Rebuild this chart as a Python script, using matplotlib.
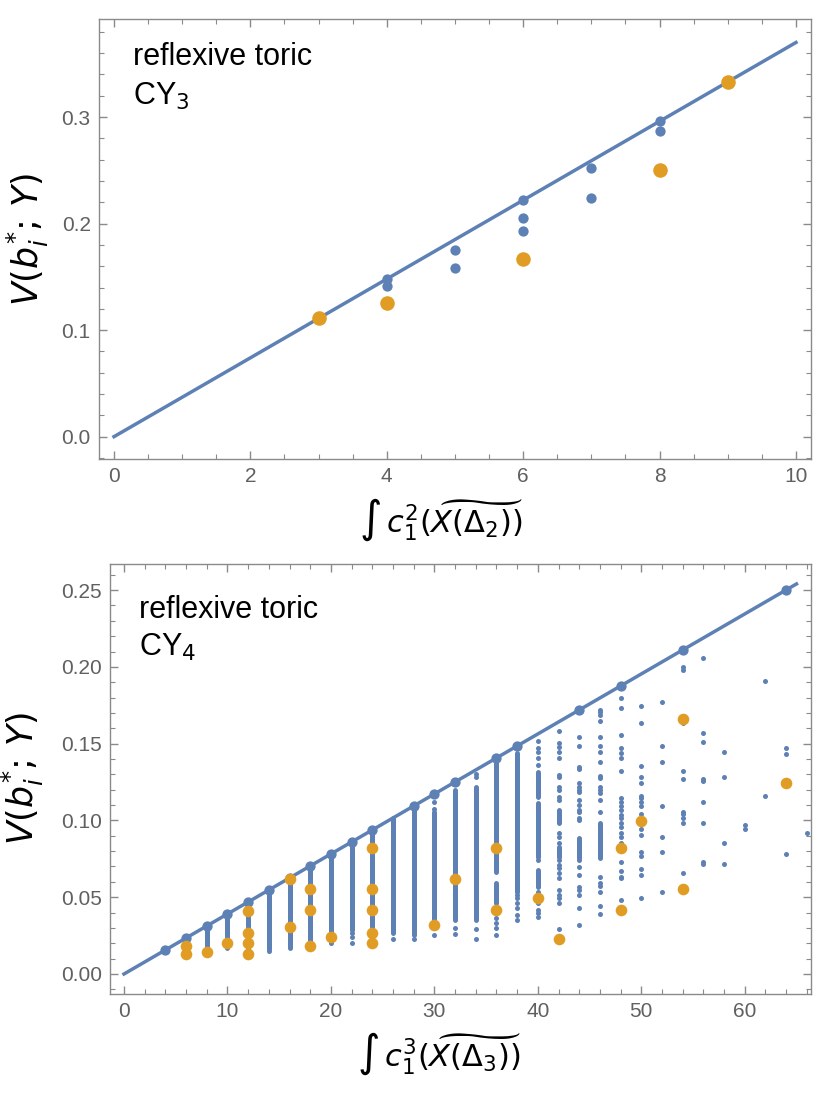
import matplotlib
matplotlib.use("Agg")
import matplotlib.pyplot as plt
from matplotlib.ticker import MultipleLocator

BLUE = "#5E81B5"
ORANGE = "#E19C24"
FRAME = "#8a8a8a"
TICKTXT = "#606060"

# ---- top panel: reflexive toric CY3 ----
cy3_bound_x = [0, 10]
cy3_bound_y = [0.0, 0.370]
cy3_blue_x = [4, 4, 5, 5, 6, 6, 6, 7, 7, 8, 8]
cy3_blue_y = [0.148, 0.141, 0.175, 0.158, 0.222, 0.205, 0.193, 0.252, 0.224, 0.296, 0.287]
cy3_orange_x = [3, 4, 6, 8, 9]
cy3_orange_y = [0.111, 0.125, 0.167, 0.250, 0.333]

# ---- bottom panel: reflexive toric CY4 ----
cy4_bound_x = [0, 65]
cy4_bound_y = [0.0, 0.254]
# points sitting on the bound
cy4_top_x = [4, 6, 8, 10, 12, 14, 16, 18, 20, 22, 24, 28, 30, 32, 36, 38, 44, 48, 54, 64]
cy4_top_y = [0.0156, 0.0234, 0.0313, 0.0391, 0.0469, 0.0547, 0.0625, 0.0703, 0.0781,
             0.0859, 0.0938, 0.1094, 0.1172, 0.125, 0.1406, 0.1484, 0.1719, 0.1875,
             0.2109, 0.25]
# columns packed so densely that the dots merge into a bar
seg_x = [6, 8, 10, 12, 14, 16, 18, 20, 22, 24, 26, 28, 30, 32, 34, 36, 36, 38,
         40, 40, 40, 42, 42, 44, 46]
seg_lo = [0.0180, 0.0150, 0.0170, 0.0160, 0.0160, 0.0170, 0.0190, 0.0265, 0.0286,
          0.0215, 0.0265, 0.0254, 0.0352, 0.0352, 0.0352, 0.0666, 0.0460, 0.0536,
          0.1155, 0.0764, 0.0569, 0.0981, 0.0764, 0.0753, 0.0753]
seg_hi = [0.0234, 0.0313, 0.0391, 0.0469, 0.0547, 0.0625, 0.0703, 0.0781, 0.0859,
          0.0938, 0.1016, 0.1094, 0.1057, 0.1198, 0.1220, 0.1375, 0.0590, 0.1437,
          0.1317, 0.1111, 0.0677, 0.1068, 0.0829, 0.0883, 0.0981]
# isolated small dots, by column
sparse_dots = {
    14: [0.0152],
    20: [0.0200],
    22: [0.0265, 0.0240, 0.0200],
    26: [0.0226],
    28: [0.0226],
    30: [0.1120, 0.1072, 0.0297, 0.0254],
    32: [0.0300, 0.0262],
    34: [0.1302, 0.1285, 0.0293, 0.0226],
    36: [0.0367, 0.0334, 0.0302, 0.0254],
    38: [0.0514, 0.0493, 0.0460, 0.0428, 0.0385, 0.0352],
    40: [0.1517, 0.1469, 0.1447, 0.1404, 0.1361, 0.0742, 0.0536, 0.0460, 0.0417,
         0.0395, 0.0373],
    42: [0.1582, 0.1502, 0.1480, 0.1447, 0.1408, 0.1296, 0.1285, 0.1219, 0.1198,
         0.1155, 0.1133, 0.0916, 0.0894, 0.0851, 0.0742, 0.0710, 0.0688, 0.0655,
         0.0623, 0.0547, 0.0514, 0.0493, 0.0460, 0.0295],
    44: [0.1545, 0.1487, 0.1350, 0.1335, 0.1241, 0.1220, 0.1198, 0.1187, 0.1133,
         0.1100, 0.1068, 0.1057, 0.1013, 0.1003, 0.0742, 0.0699, 0.0645, 0.0569,
         0.0547, 0.0514, 0.0428, 0.0319],
    46: [0.1719, 0.1704, 0.1686, 0.1649, 0.1541, 0.1487, 0.1447, 0.1378, 0.1289,
         0.1274, 0.1219, 0.1198, 0.1176, 0.1133, 0.1053, 0.0634, 0.0590, 0.0573,
         0.0536, 0.0443, 0.0389],
    48: [0.1799, 0.1732, 0.1556, 0.1473, 0.1437, 0.1408, 0.1324, 0.1148, 0.1122,
         0.1094, 0.1068, 0.1035, 0.1013, 0.0981, 0.0959, 0.0916, 0.0894, 0.0851,
         0.0727, 0.0673, 0.0634, 0.0623, 0.0482],
    50: [0.1745, 0.1636, 0.1352, 0.1285, 0.1243, 0.1161, 0.1144, 0.1122, 0.1094,
         0.1040, 0.0944, 0.0903, 0.0796, 0.0768, 0.0686, 0.0647, 0.0497],
    52: [0.1771, 0.1487, 0.1378, 0.1094, 0.0890, 0.0794, 0.0536],
    54: [0.2001, 0.1977, 0.1636, 0.1324, 0.1270, 0.1055, 0.1040, 0.1013, 0.0986, 0.0660],
    56: [0.2055, 0.1569, 0.1513, 0.1270, 0.1257, 0.1122, 0.0985, 0.0727, 0.0714],
    58: [0.1445, 0.1285, 0.0851, 0.0714],
    60: [0.0972, 0.0944],
    62: [0.1908, 0.1161],
    64: [0.1473, 0.1434, 0.0781],
    66: [0.0916],
}
cy4_orange_x = [6, 6, 8, 10, 12, 12, 12, 12, 16, 16, 18, 18, 18, 20, 24, 24, 24, 24, 24,
                30, 32, 36, 36, 40, 42, 48, 48, 50, 54, 54, 64]
cy4_orange_y = [0.0182, 0.0128, 0.0145, 0.0200, 0.0412, 0.0267, 0.0200, 0.0130, 0.0621,
                0.0306, 0.0551, 0.0415, 0.0184, 0.0241, 0.0822, 0.0551, 0.0415, 0.0267,
                0.0200, 0.0321, 0.0621, 0.0822, 0.0417, 0.0497, 0.0226, 0.0822, 0.0417,
                0.0998, 0.1662, 0.0551, 0.1243]

plt.rcParams["font.family"] = ["Liberation Sans", "DejaVu Sans"]
plt.rcParams["mathtext.fontset"] = "dejavusans"


def style_frame(ax, xmaj, xmin, ymaj, ymin):
    for sp in ax.spines.values():
        sp.set_color(FRAME)
        sp.set_linewidth(1.0)
    ax.xaxis.set_major_locator(MultipleLocator(xmaj))
    ax.xaxis.set_minor_locator(MultipleLocator(xmin))
    ax.yaxis.set_major_locator(MultipleLocator(ymaj))
    ax.yaxis.set_minor_locator(MultipleLocator(ymin))
    ax.tick_params(which="both", direction="in", top=True, right=True,
                   color=FRAME, labelcolor=TICKTXT, labelsize=15, pad=6)
    ax.tick_params(which="major", length=6, width=1.0)
    ax.tick_params(which="minor", length=3.5, width=0.8)


fig = plt.figure(figsize=(8.34, 11.0), dpi=100)

# top panel
ax1 = fig.add_axes([0.1187, 0.5827, 0.8537, 0.400])
ax1.plot(cy3_bound_x, cy3_bound_y, color=BLUE, lw=2.5, zorder=2)
ax1.scatter(cy3_blue_x, cy3_blue_y, s=55, color=BLUE, lw=0, zorder=3)
ax1.scatter(cy3_orange_x, cy3_orange_y, s=110, color=ORANGE, lw=0, zorder=4)
ax1.set_xlim(-0.22, 10.22)
ax1.set_ylim(-0.021, 0.392)
style_frame(ax1, 2, 0.5, 0.1, 0.02)
ax1.yaxis.set_major_formatter(plt.FuncFormatter(lambda v, p: f"{v:.1f}"))
ax1.text(0.048, 0.895, "reflexive toric", transform=ax1.transAxes, fontsize=22)
ax1.text(0.048, 0.805, r"CY$_3$", transform=ax1.transAxes, fontsize=22)
ax1.set_ylabel(r"$V(b_i^{*};\,Y)$", fontsize=25)
ax1.yaxis.set_label_coords(-0.068, 0.5)
ax1.set_xlabel(r"$\int\,c_1^2(\widetilde{X(\Delta_2)})$", fontsize=22)
ax1.xaxis.set_label_coords(0.48, -0.085)

# bottom panel
ax2 = fig.add_axes([0.1319, 0.0964, 0.8405, 0.3909])
ax2.plot(cy4_bound_x, cy4_bound_y, color=BLUE, lw=2.5, zorder=2)
vl = ax2.vlines(seg_x, seg_lo, seg_hi, color=BLUE, lw=3.6, zorder=3)
vl.set_capstyle("round")
dx = [x for x, ys in sparse_dots.items() for _ in ys]
dy = [y for ys in sparse_dots.values() for y in ys]
ax2.scatter(dx, dy, s=13, color=BLUE, lw=0, zorder=3)
ax2.scatter(cy4_top_x, cy4_top_y, s=55, color=BLUE, lw=0, zorder=4)
ax2.scatter(cy4_orange_x, cy4_orange_y, s=70, color=ORANGE, lw=0, zorder=5)
ax2.set_xlim(-1.35, 66.4)
ax2.set_ylim(-0.013, 0.267)
style_frame(ax2, 10, 2, 0.05, 0.01)
ax2.yaxis.set_major_formatter(plt.FuncFormatter(lambda v, p: f"{v:.2f}"))
ax2.text(0.041, 0.874, "reflexive toric", transform=ax2.transAxes, fontsize=22)
ax2.text(0.041, 0.786, r"CY$_4$", transform=ax2.transAxes, fontsize=22)
ax2.set_ylabel(r"$V(b_i^{*};\,Y)$", fontsize=25)
ax2.yaxis.set_label_coords(-0.092, 0.5)
ax2.set_xlabel(r"$\int\,c_1^3(\widetilde{X(\Delta_3)})$", fontsize=22)
ax2.xaxis.set_label_coords(0.47, -0.085)

fig.savefig("out.png", dpi=100)
